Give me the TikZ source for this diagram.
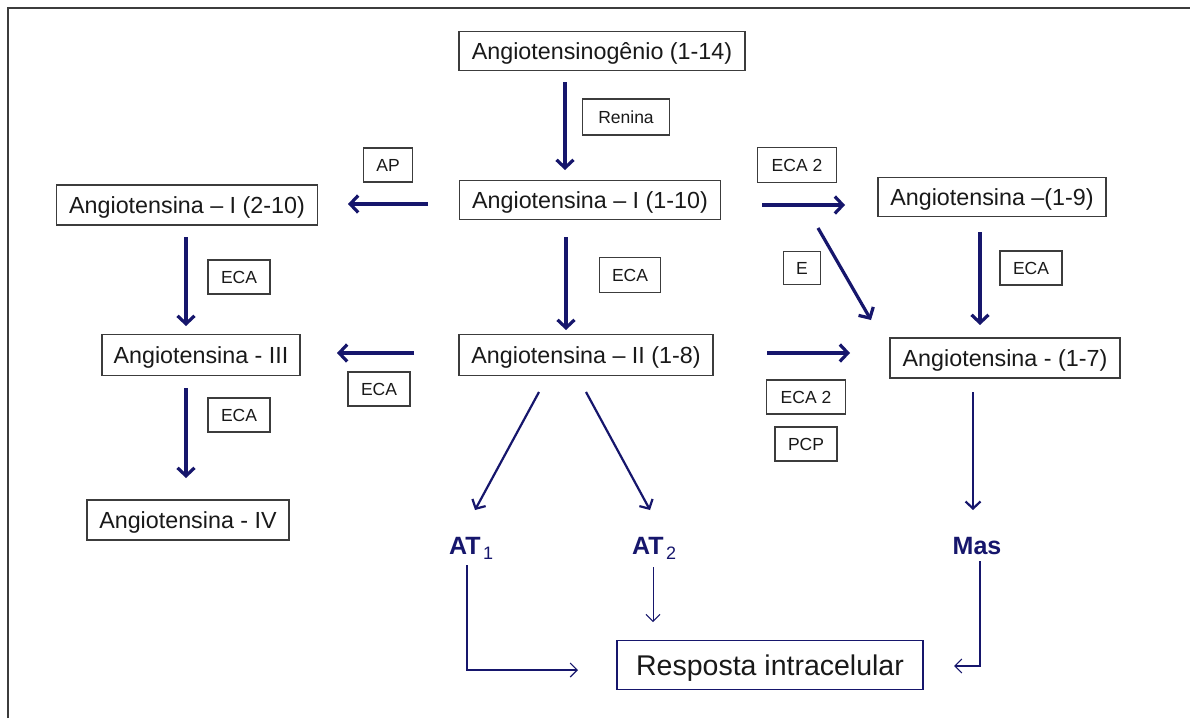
\documentclass[tikz,border=0pt]{standalone}
\usepackage{fontspec}
\setmainfont{Liberation Sans}
\usetikzlibrary{arrows.meta}
\definecolor{navy}{RGB}{22,22,108}
\definecolor{boxgray}{RGB}{60,60,60}
\definecolor{txt}{RGB}{25,25,25}
\tikzset{
  mol/.style={draw=boxgray, line width=1.1pt, text=txt, inner sep=0pt, text height=16pt, text depth=0pt, font=\fontsize{23.3}{26}\selectfont},
  enz/.style={draw=boxgray, line width=1.1pt, text=txt, inner sep=0pt, text height=12.5pt, text depth=0pt, font=\fontsize{17.5}{20}\selectfont},
  rec/.style={text=navy, inner sep=0pt, font=\bfseries\fontsize{25}{28}\selectfont},
  thick arrow/.style={draw=navy, line width=3.2pt, -{Straight Barb[length=8pt,width=17pt]}},
  mid arrow/.style={draw=navy, line width=2.2pt, -{Straight Barb[length=7pt,width=15pt]}},
  thin arrow/.style={draw=navy, line width=1.8pt, -{Straight Barb[length=7pt,width=14pt,line width=1.1pt]}},
  hair arrow/.style={draw=navy, line width=1pt, -{Straight Barb[length=7pt,width=14pt]}},
}
\newcommand{\rsub}[1]{\kern2.5pt\raisebox{-5pt}{\mdseries\fontsize{18}{20}\selectfont #1}}
\begin{document}
\begin{tikzpicture}[x=1pt,y=-1pt]
\useasboundingbox (0,0) rectangle (1190,718);
\fill[white] (0,0) rectangle (1190,718);
\draw[boxgray, line width=1.5pt] (8,718) -- (8,8) -- (1190,8);

% molecules
\node[mol, minimum width=286pt, minimum height=39pt] (ag) at (602,51) {Angiotensinogênio (1-14)};
\node[mol, minimum width=261pt, minimum height=39pt] (a1) at (590,200) {Angiotensina -- I (1-10)};
\node[mol, minimum width=261pt, minimum height=40pt] (a210) at (187,205) {Angiotensina -- I (2-10)};
\node[mol, minimum width=228pt, minimum height=39pt] (a19) at (992,197) {Angiotensina --(1-9)};
\node[mol, minimum width=230pt, minimum height=40pt] (a17) at (1005,358) {Angiotensina - (1-7)};
\node[mol, minimum width=254pt, minimum height=41pt] (a2) at (586,355) {Angiotensina -- II (1-8)};
\node[mol, minimum width=198pt, minimum height=41pt] (a3) at (201,355) {Angiotensina - III};
\node[mol, minimum width=202pt, minimum height=40pt] (a4) at (188,520) {Angiotensina - IV};
\node[draw=navy, line width=1.2pt, text=txt, inner sep=0pt, text height=20pt, text depth=0pt, minimum width=306pt, minimum height=49pt, font=\fontsize{28.5}{32}\selectfont] (resp) at (770,665) {Resposta intracelular};

% enzymes
\node[enz, minimum width=87pt, minimum height=36pt] (ren) at (626,117) {Renina};
\node[enz, minimum width=49pt, minimum height=34pt] (ap) at (388,165) {AP};
\node[enz, minimum width=79pt, minimum height=35pt] (eca2a) at (797,165) {ECA 2};
\node[enz, minimum width=37pt, minimum height=33pt] (e) at (802,268) {E};
\node[enz, minimum width=62pt, minimum height=34pt] (ecaR) at (1031,268) {ECA};
\node[enz, minimum width=61pt, minimum height=35pt] (ecaM) at (630,275) {ECA};
\node[enz, minimum width=79pt, minimum height=34pt] (eca2b) at (806,397) {ECA 2};
\node[enz, minimum width=62pt, minimum height=34pt] (pcp) at (806,444) {PCP};
\node[enz, minimum width=62pt, minimum height=34pt] (ecaL) at (379,389) {ECA};
\node[enz, minimum width=62pt, minimum height=34pt] (ecaL1) at (239,277) {ECA};
\node[enz, minimum width=62pt, minimum height=34pt] (ecaL2) at (239,415) {ECA};

% receptors
\node[rec, anchor=base west] (at1) at (449,554) {AT\rsub{1}};
\node[rec, anchor=base west] (at2) at (632,554) {AT\rsub{2}};
\node[rec, anchor=base] (mas) at (977,554) {Mas};

% arrow end points
\coordinate (s1) at (565,82);   \coordinate (t1) at (565,170);
\coordinate (s2) at (428,204);  \coordinate (t2) at (348,204);
\coordinate (s3) at (762,205);  \coordinate (t3) at (845,205);
\coordinate (s4) at (818,228);  \coordinate (t4) at (871,320);
\coordinate (s5) at (980,232);  \coordinate (t5) at (980,325);
\coordinate (s6) at (566,237);  \coordinate (t6) at (566,330);
\coordinate (s7) at (767,353);  \coordinate (t7) at (850,353);
\coordinate (s8) at (414,353);  \coordinate (t8) at (337,353);
\coordinate (s9) at (186,237);  \coordinate (t9) at (186,326);
\coordinate (s10) at (186,388); \coordinate (t10) at (186,478);
\coordinate (s11) at (539,392); \coordinate (t11) at (475,510);
\coordinate (s12) at (586,392); \coordinate (t12) at (650,510);
\coordinate (s13) at (973,392); \coordinate (t13) at (973,510);
\coordinate (s14) at (467,565); \coordinate (k14) at (467,670); \coordinate (t14) at (578,670);
\coordinate (s15) at (653,567); \coordinate (t15) at (653,622);
\coordinate (s16) at (980,561); \coordinate (k16) at (980,666); \coordinate (t16) at (954,666);

\draw[thick arrow] (s1) -- (t1);
\draw[thick arrow] (s2) -- (t2);
\draw[thick arrow] (s3) -- (t3);
\draw[thick arrow] (s4) -- (t4);
\draw[thick arrow] (s5) -- (t5);
\draw[thick arrow] (s6) -- (t6);
\draw[thick arrow] (s7) -- (t7);
\draw[thick arrow] (s8) -- (t8);
\draw[thick arrow] (s9) -- (t9);
\draw[thick arrow] (s10) -- (t10);
\draw[mid arrow] (s11) -- (t11);
\draw[mid arrow] (s12) -- (t12);
\draw[mid arrow] (s13) -- (t13);
\draw[thin arrow] (s14) -- (k14) -- (t14);
\draw[hair arrow] (s15) -- (t15);
\draw[thin arrow] (s16) -- (k16) -- (t16);
\end{tikzpicture}
\end{document}
